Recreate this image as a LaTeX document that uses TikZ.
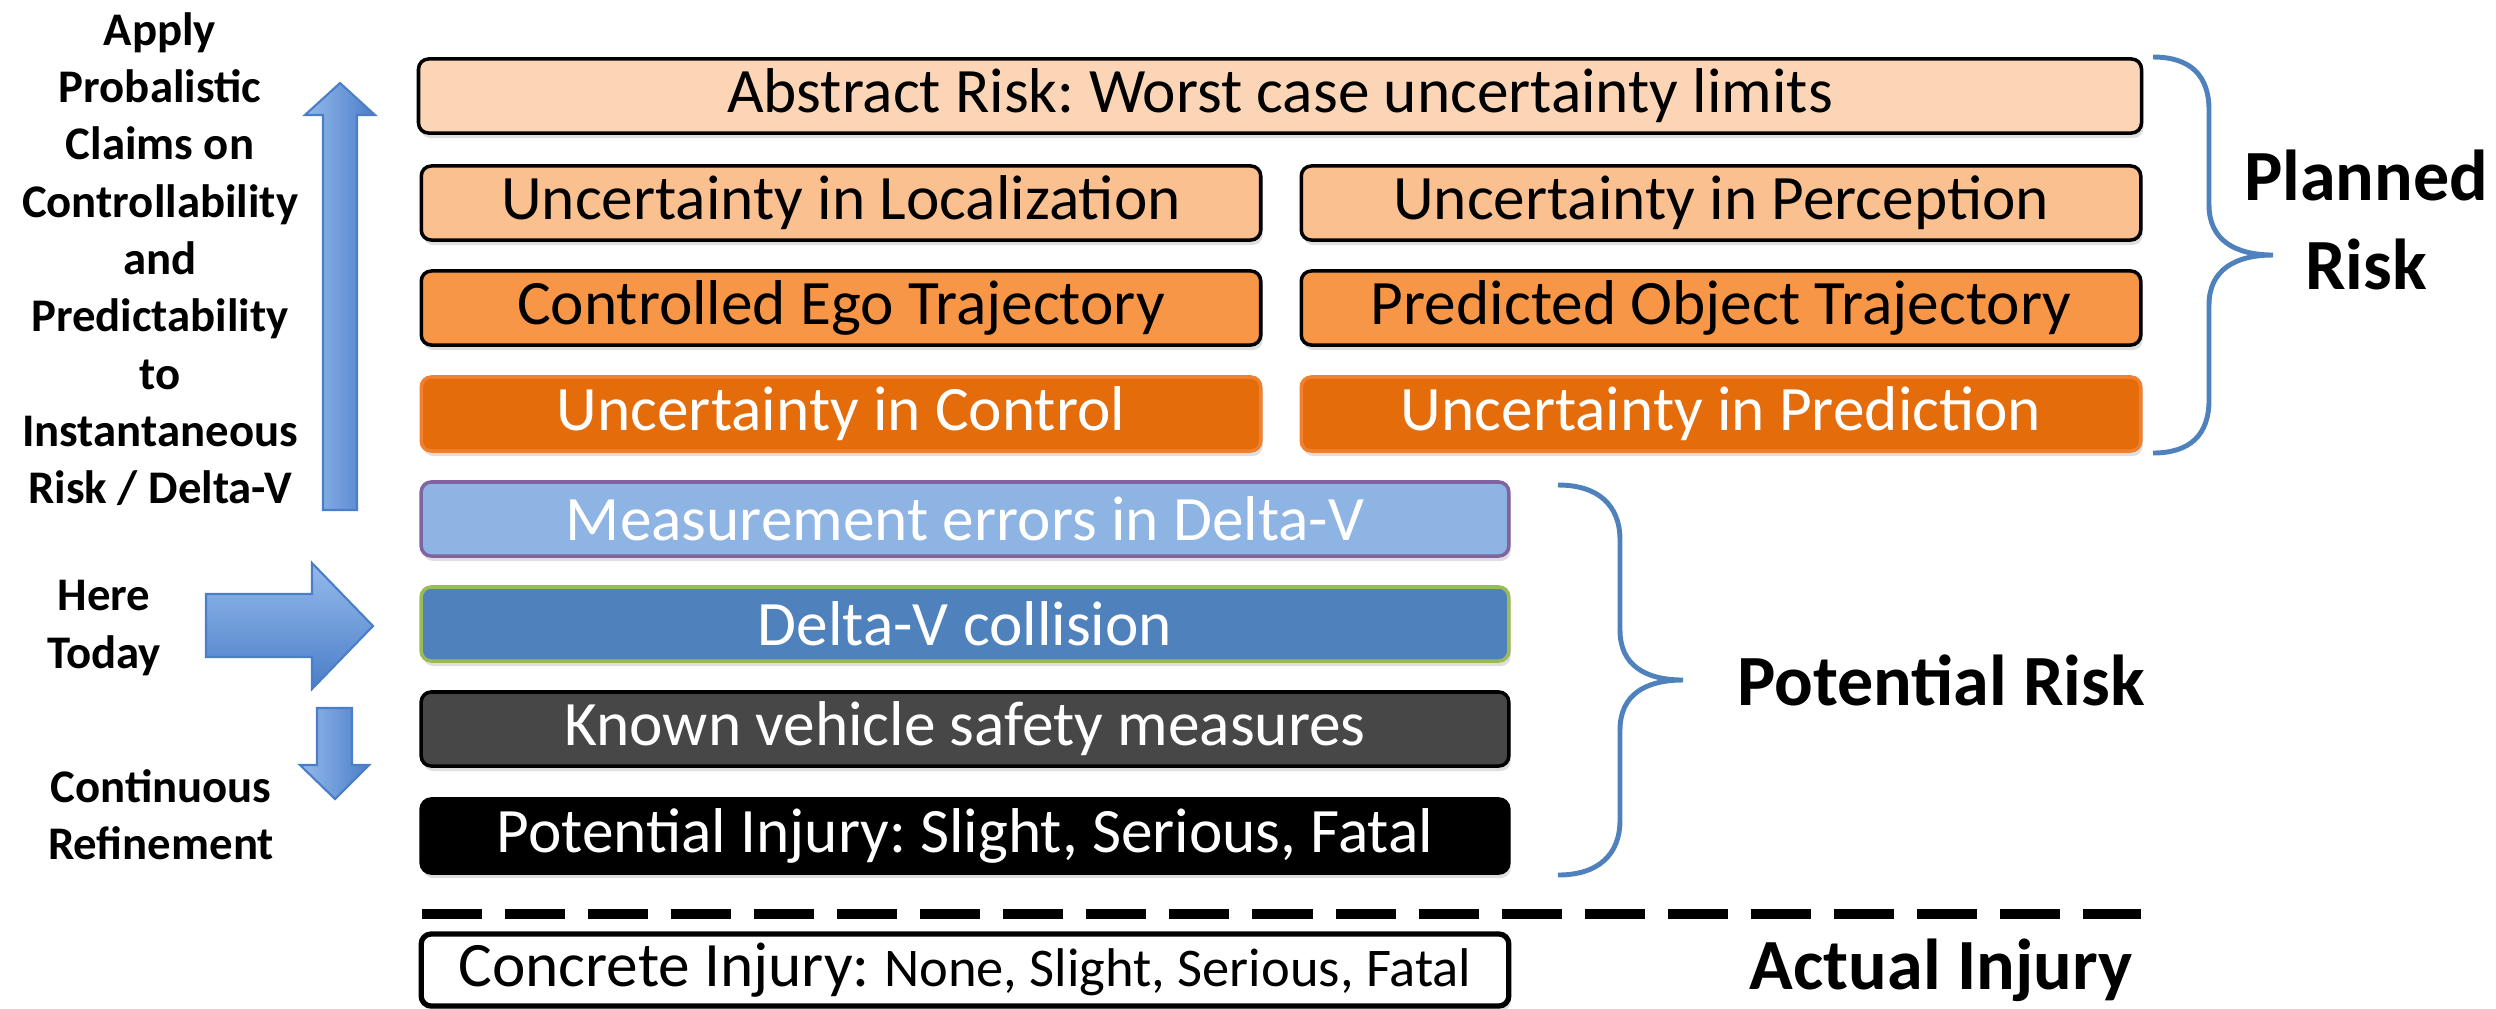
\documentclass[tikz,border=0pt]{standalone}
\usepackage{fontspec}
\setmainfont{Carlito}
\usetikzlibrary{shadows}
\frenchspacing

\definecolor{absfill}{HTML}{FBD5B5}
\definecolor{lightor}{HTML}{FAC090}
\definecolor{midor}{HTML}{F79646}
\definecolor{darkor}{HTML}{E46C0A}
\definecolor{darkoredge}{HTML}{EE8030}
\definecolor{measfill}{HTML}{8EB4E3}
\definecolor{measedge}{HTML}{8064A2}
\definecolor{dvfill}{HTML}{4F81BD}
\definecolor{dvedge}{HTML}{9BBB59}
\definecolor{knownfill}{HTML}{474747}
\definecolor{braceblue}{HTML}{4F81BD}
\definecolor{arrowlight}{HTML}{95BAEC}
\definecolor{arrowdark}{HTML}{4A7EC8}

\begin{document}
\begin{tikzpicture}[x=0.01cm,y=-0.01cm,
    box/.style={rounded corners=0.1cm,minimum height=0.74cm,inner sep=0pt,line width=1pt,
      font=\fontsize{18}{21}\selectfont,
      drop shadow={shadow xshift=0.02cm,shadow yshift=-0.05cm,opacity=0.25}},
    wide/.style={box,minimum width=17.22cm},
    half/.style={box,minimum width=8.39cm},
    long/.style={box,minimum width=10.87cm},
    side/.style={align=center,font=\bfseries\fontsize{13.3}{16.3}\selectfont},
    big/.style={align=center,font=\bfseries\fontsize{20.5}{25.5}\selectfont},
    brace/.style={draw=braceblue,line width=1.4pt},
    blockarrow/.style={draw=arrowdark,line width=0.6pt}]
    \useasboundingbox (0,0) rectangle (2496,1008);

    % planned risk
    \node[wide,draw=black,fill=absfill] (abs) at (1280,96) {Abstract Risk: Worst case uncertainty limits};
    \node[half,draw=black,fill=lightor] (loc) at (841,203) {Uncertainty in Localization};
    \node[half,draw=black,fill=lightor] (per) at (1721,203) {Uncertainty in Perception};
    \node[half,draw=black,fill=midor] (ego) at (841,308) {Controlled Ego Trajectory};
    \node[half,draw=black,fill=midor] (obj) at (1721,308) {Predicted Object Trajectory};
    \node[half,draw=darkoredge,fill=darkor,text=white] (ctl) at (841,414) {Uncertainty in Control};
    \node[half,draw=darkoredge,fill=darkor,text=white] (pred) at (1721,414) {Uncertainty in Prediction};

    % potential risk
    \node[long,draw=measedge,fill=measfill,text=white] (meas) at (965,519) {Measurement errors in Delta-V};
    \node[long,draw=dvedge,fill=dvfill,text=white] (dv) at (965,624) {Delta-V collision};
    \node[long,draw=black,fill=knownfill,text=white] (known) at (965,729) {Known vehicle safety measures};
    \node[long,draw=black,fill=black,text=white] (pinj) at (965,836) {Potential Injury: Slight, Serious, Fatal};

    % actual injury
    \draw[line width=3pt,dash pattern=on 0.6cm off 0.23cm] (422,914) -- (2141,914);
    \node[long,draw=black,fill=white,line width=1.5pt,minimum height=0.72cm] (conc) at (965,970)
      {Concrete Injury: {\fontsize{15.5}{18}\selectfont None, Slight, Serious, Fatal}};

    % braces
    \draw[brace] (2153,57) .. controls (2190,57) and (2209,75) .. (2209,110) -- (2209,205)
      .. controls (2209,240) and (2235,255) .. (2273,255)
      .. controls (2235,255) and (2209,270) .. (2209,305) -- (2209,400)
      .. controls (2209,435) and (2190,453) .. (2153,453);
    \draw[brace] (1558,485) .. controls (1598,485) and (1620,505) .. (1620,540) -- (1620,630)
      .. controls (1620,665) and (1645,680) .. (1683,680)
      .. controls (1645,680) and (1620,695) .. (1620,730) -- (1620,820)
      .. controls (1620,855) and (1598,875) .. (1558,875);

    \node[big] (planned) at (2366,220) {Planned\\Risk};
    \node[big] (potential) at (1941,680) {Potential Risk};
    \node[big] (actual) at (1941,970) {Actual Injury};

    % left side
    \node[side] (apply) at (160,259) {Apply\\Probalistic\\Claims on\\Controllability\\and\\Predictability\\to\\Instantaneous\\Risk / Delta-V};
    \node[side] (today) at (104,628) {Here\\Today};
    \node[side] (refine) at (161,815) {Continuous\\Refinement};

    \draw[blockarrow,left color=arrowlight,right color=arrowdark]
      (323,510) -- (323,115) -- (305,115) -- (340,83) -- (375,115) -- (357,115) -- (357,510) -- cycle;
    \draw[blockarrow,top color=arrowlight,bottom color=arrowdark]
      (206,594) -- (312,594) -- (312,563) -- (373,626) -- (312,689) -- (312,657) -- (206,657) -- cycle;
    \draw[blockarrow,left color=arrowlight,right color=arrowdark]
      (317,708) -- (352,708) -- (352,765) -- (369,765) -- (335,799) -- (300,765) -- (317,765) -- cycle;
\end{tikzpicture}
\end{document}
